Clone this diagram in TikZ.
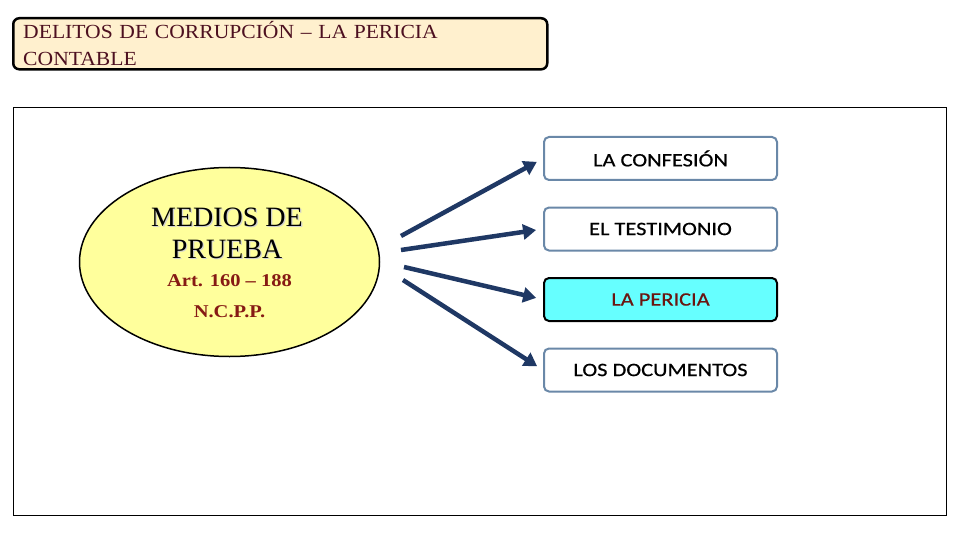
\documentclass[tikz,border=0pt]{standalone}
\usepackage{fontspec}
\setmainfont{Liberation Serif}
\newfontfamily\calibri[FakeStretch=1.18,FakeBold=0.6]{Carlito}
\newfontfamily\titulofont[FakeStretch=1.08]{Liberation Serif}
\newfontfamily\artfont[FakeStretch=1.14]{Liberation Serif}
\usepackage{tikz}
\usetikzlibrary{arrows.meta,positioning,calc,shapes.geometric}

\definecolor{titulofondo}{HTML}{FFF0CE}
\definecolor{titulotinta}{HTML}{4D1020}
\definecolor{elipsefondo}{HTML}{FFFF9C}
\definecolor{articulo}{HTML}{861A14}
\definecolor{cajaborde}{HTML}{6A88A8}
\definecolor{periciafondo}{HTML}{66FFFF}
\definecolor{flechacolor}{HTML}{1F3864}

\begin{document}
\begin{tikzpicture}[x=1pt,y=-1pt,
  caja/.style={draw=cajaborde, line width=2pt, rounded corners=5pt, fill=white,
    minimum width=233pt, minimum height=43pt, font=\calibri\fontsize{19}{22}\selectfont},
  flecha/.style={draw=flechacolor, line width=4.5pt, -{Triangle[length=13pt,width=15pt]}, shorten >=7pt}]
  \useasboundingbox (0,0) rectangle (960,540);
  \fill[white] (0,0) rectangle (960,540);
  % titulo
  \node[draw=black, line width=2.5pt, rounded corners=6pt, fill=titulofondo,
    minimum width=534pt, minimum height=51pt, anchor=north west,
    text width=514pt, inner xsep=10pt, align=left, text=titulotinta,
    font=\titulofont\fontsize{20}{27}\selectfont] (titulo) at (12,17)
    {DELITOS DE CORRUPCIÓN – LA PERICIA\\CONTABLE};
  \draw[line width=0.8pt] (13,107) rectangle (946,515);
  % medios de prueba
  \node[ellipse, draw=black, line width=1.5pt, fill=elipsefondo,
    minimum width=300pt, minimum height=189pt] (medios) at (229.5,262) {};
  \node[inner sep=0pt, align=center, text=black!18, font=\fontsize{28}{32}\selectfont] (mediossombra) at (228.2,234.7) {MEDIOS DE\\PRUEBA};
  \node[inner sep=0pt, align=center, font=\fontsize{28}{32}\selectfont] (mediostexto) at (227,233.5) {MEDIOS DE\\PRUEBA};
  \node[inner sep=0pt, align=center, text=articulo, font=\artfont\bfseries\fontsize{18}{31}\selectfont] (articulos) at (229.5,296.5) {Art. 160 – 188\\N.C.P.P.};
  % cajas
  \node[caja] (confesion) at (660.5,158.5) {LA CONFESIÓN};
  \node[caja, below=25.5pt of confesion] (testimonio) {EL TESTIMONIO};
  \node[caja, below=25.5pt of testimonio, draw=black, fill=periciafondo, text=articulo!80!black] (pericia) {LA PERICIA};
  \node[caja, below=25.5pt of pericia] (documentos) {LOS DOCUMENTOS};
  % flechas
  \coordinate (s1) at (401,236);
  \coordinate (s2) at (401,250);
  \coordinate (s3) at (404,267);
  \coordinate (s4) at (403,280);
  \draw[flecha] (s1) -- (confesion.west);
  \draw[flecha] (s2) -- (testimonio.west);
  \draw[flecha] (s3) -- (pericia.west);
  \draw[flecha] (s4) -- (documentos.west);
\end{tikzpicture}
\end{document}
